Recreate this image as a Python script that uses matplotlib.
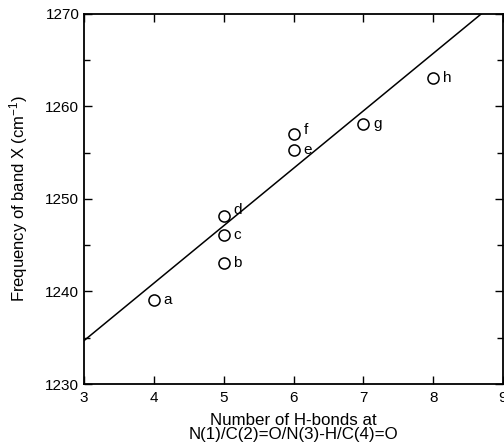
import matplotlib.pyplot as plt

plt.rcParams['font.family'] = ['Liberation Sans', 'DejaVu Sans']
plt.rcParams['mathtext.default'] = 'regular'

# data
h_bonds = [4, 5, 5, 5, 6, 6, 7, 8]
freq = [1239.1, 1243.1, 1246.1, 1248.1, 1255.3, 1257.0, 1258.1, 1263.1]
point_labels = ['a', 'b', 'c', 'd', 'e', 'f', 'g', 'h']
fit_x = [3, 8.69]
fit_y = [1234.7, 1270]

# label offsets in points (x, y)
offsets = {'a': (7, 0), 'b': (7, 0), 'c': (7, 0), 'd': (7, 5),
           'e': (7, 0), 'f': (7, 3), 'g': (7, 0), 'h': (7, 0)}

fig = plt.figure(figsize=(5.04, 4.46), dpi=100)
ax = fig.add_axes([0.167, 0.139, 0.831, 0.830])

ax.plot(fit_x, fit_y, color='black', lw=1.1)
ax.plot(h_bonds, freq, 'o', ms=8, mfc='white', mec='black', mew=1.1,
        linestyle='none')
for x, y, lab in zip(h_bonds, freq, point_labels):
    ax.annotate(lab, (x, y), xytext=offsets[lab], textcoords='offset points',
                ha='left', va='center', fontsize=11)

ax.set_xlim(3, 9)
ax.set_ylim(1230, 1270)
ax.set_xticks(range(3, 10))
ax.set_yticks([1230, 1240, 1250, 1260, 1270])
ax.set_yticks([1235, 1245, 1255, 1265], minor=True)
ax.tick_params(which='both', direction='in', top=True, right=True,
               labelsize=11, width=1)
ax.tick_params(which='major', length=6)
ax.tick_params(which='minor', length=4)
ax.tick_params(axis='x', which='minor', bottom=False, top=False)
ax.tick_params(axis='x', pad=5)
for s in ax.spines.values():
    s.set_linewidth(1.3)

ax.set_xlabel('Number of H-bonds at\nN(1)/C(2)=O/N(3)-H/C(4)=O', fontsize=12.2,
              labelpad=6, linespacing=0.92)
ax.set_ylabel('Frequency of band X (cm$^{-1}$)', fontsize=12, labelpad=11)

fig.savefig('out.png', dpi=100)
